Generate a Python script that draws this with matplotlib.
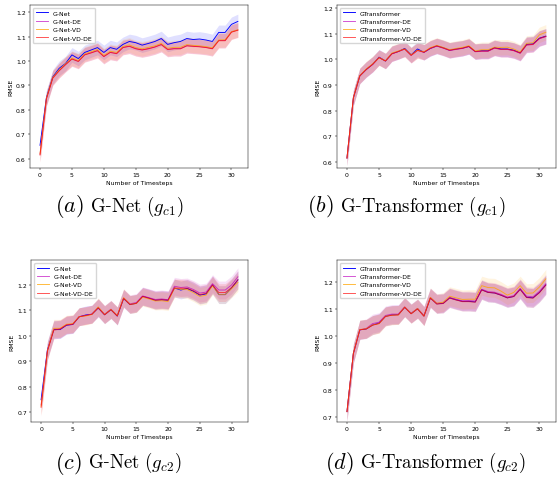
import matplotlib
matplotlib.use("Agg")
import matplotlib.pyplot as plt
import numpy as np

s = 0.44  # everything scaled down like a shrunk figure
plt.rcParams['font.size'] = 10 * s
plt.rcParams['axes.linewidth'] = 0.8 * s
plt.rcParams['xtick.major.size'] = 3.5 * s
plt.rcParams['ytick.major.size'] = 3.5 * s
plt.rcParams['xtick.major.width'] = 0.8 * s
plt.rcParams['ytick.major.width'] = 0.8 * s
plt.rcParams['xtick.major.pad'] = 3.5 * s
plt.rcParams['ytick.major.pad'] = 3.5 * s
plt.rcParams['legend.fontsize'] = 10 * s
plt.rcParams['mathtext.fontset'] = 'cm'

steps = np.arange(32)

# (a) G-Net, g_c1
a_gnet = [0.655, 0.850, 0.935, 0.970, 0.990, 1.025, 1.010, 1.035, 1.045, 1.055, 1.035, 1.055,
          1.048, 1.068, 1.080, 1.075, 1.065, 1.072, 1.080, 1.092, 1.068, 1.075, 1.080, 1.092,
          1.088, 1.090, 1.086, 1.080, 1.117, 1.117, 1.150, 1.162]
a_de = [0.618, 0.846, 0.931, 0.961, 0.986, 1.009, 0.999, 1.026, 1.034, 1.043, 1.019, 1.036,
        1.031, 1.056, 1.061, 1.051, 1.046, 1.051, 1.058, 1.068, 1.048, 1.051, 1.051, 1.063,
        1.061, 1.059, 1.056, 1.051, 1.084, 1.084, 1.119, 1.127]
a_vd = [0.620, 0.848, 0.933, 0.964, 0.989, 1.012, 1.002, 1.029, 1.038, 1.047, 1.023, 1.040,
        1.035, 1.060, 1.066, 1.055, 1.050, 1.056, 1.062, 1.072, 1.052, 1.056, 1.056, 1.067,
        1.064, 1.062, 1.059, 1.054, 1.086, 1.087, 1.120, 1.128]
a_vdde = [0.615, 0.845, 0.930, 0.960, 0.985, 1.008, 0.998, 1.025, 1.033, 1.042, 1.018, 1.035,
          1.030, 1.055, 1.060, 1.050, 1.045, 1.050, 1.057, 1.067, 1.047, 1.050, 1.050, 1.062,
          1.060, 1.058, 1.055, 1.050, 1.083, 1.083, 1.118, 1.126]

# (b) G-Transformer, g_c1
b_gt = [0.615, 0.850, 0.935, 0.960, 0.980, 1.008, 0.993, 1.022, 1.030, 1.042, 1.017, 1.040,
        1.027, 1.042, 1.052, 1.045, 1.035, 1.040, 1.043, 1.050, 1.030, 1.033, 1.033, 1.045,
        1.040, 1.040, 1.035, 1.025, 1.058, 1.060, 1.082, 1.090]
b_de = [0.615, 0.850, 0.935, 0.960, 0.980, 1.007, 0.993, 1.021, 1.030, 1.039, 1.015, 1.034,
        1.027, 1.042, 1.051, 1.043, 1.034, 1.038, 1.042, 1.049, 1.029, 1.031, 1.031, 1.043,
        1.038, 1.038, 1.033, 1.023, 1.055, 1.057, 1.080, 1.088]
b_vd = [0.615, 0.851, 0.936, 0.962, 0.982, 1.006, 0.994, 1.024, 1.032, 1.040, 1.017, 1.035,
        1.029, 1.045, 1.054, 1.046, 1.037, 1.042, 1.046, 1.053, 1.032, 1.037, 1.037, 1.047,
        1.046, 1.047, 1.040, 1.028, 1.062, 1.064, 1.095, 1.105]
b_vdde = [0.615, 0.850, 0.935, 0.960, 0.980, 1.006, 0.993, 1.021, 1.030, 1.040, 1.015, 1.035,
          1.027, 1.043, 1.052, 1.044, 1.035, 1.039, 1.043, 1.050, 1.030, 1.032, 1.032, 1.044,
          1.039, 1.039, 1.034, 1.024, 1.056, 1.058, 1.081, 1.089]

# (c) G-Net, g_c2
c_gnet = [0.750, 0.945, 1.025, 1.025, 1.042, 1.045, 1.075, 1.082, 1.085, 1.110, 1.083, 1.103,
          1.078, 1.147, 1.123, 1.128, 1.155, 1.148, 1.140, 1.142, 1.140, 1.188, 1.180, 1.186,
          1.175, 1.160, 1.165, 1.200, 1.162, 1.162, 1.188, 1.220]
c_de = [0.730, 0.945, 1.027, 1.028, 1.044, 1.047, 1.076, 1.080, 1.086, 1.112, 1.085, 1.105,
        1.080, 1.149, 1.126, 1.131, 1.157, 1.150, 1.143, 1.145, 1.142, 1.195, 1.190, 1.192,
        1.182, 1.168, 1.172, 1.205, 1.180, 1.180, 1.200, 1.232]
c_vd = [0.725, 0.942, 1.030, 1.030, 1.046, 1.048, 1.076, 1.078, 1.084, 1.114, 1.084, 1.104,
        1.080, 1.150, 1.124, 1.127, 1.152, 1.145, 1.137, 1.138, 1.135, 1.187, 1.183, 1.182,
        1.170, 1.155, 1.160, 1.196, 1.162, 1.162, 1.185, 1.210]
c_vdde = [0.720, 0.940, 1.023, 1.027, 1.043, 1.046, 1.075, 1.080, 1.085, 1.110, 1.083, 1.103,
          1.078, 1.147, 1.123, 1.128, 1.155, 1.148, 1.140, 1.142, 1.140, 1.188, 1.187, 1.187,
          1.177, 1.162, 1.167, 1.200, 1.170, 1.170, 1.190, 1.220]

# (d) G-Transformer, g_c2
d_gt = [0.720, 0.935, 1.022, 1.025, 1.040, 1.047, 1.072, 1.077, 1.078, 1.105, 1.082, 1.100,
        1.073, 1.140, 1.118, 1.120, 1.140, 1.133, 1.127, 1.127, 1.125, 1.170, 1.160, 1.158,
        1.150, 1.140, 1.145, 1.172, 1.142, 1.140, 1.160, 1.188]
d_de = [0.720, 0.935, 1.022, 1.027, 1.045, 1.050, 1.075, 1.080, 1.080, 1.107, 1.083, 1.101,
        1.075, 1.141, 1.120, 1.122, 1.142, 1.135, 1.129, 1.130, 1.128, 1.172, 1.163, 1.161,
        1.153, 1.143, 1.148, 1.175, 1.146, 1.144, 1.164, 1.192]
d_vd = [0.720, 0.936, 1.023, 1.026, 1.040, 1.045, 1.072, 1.076, 1.077, 1.106, 1.082, 1.101,
        1.073, 1.142, 1.120, 1.124, 1.146, 1.140, 1.134, 1.135, 1.135, 1.185, 1.178, 1.177,
        1.165, 1.150, 1.160, 1.185, 1.157, 1.158, 1.180, 1.210]
d_vdde = [0.720, 0.935, 1.022, 1.025, 1.039, 1.045, 1.071, 1.076, 1.077, 1.105, 1.081, 1.099,
          1.072, 1.139, 1.117, 1.119, 1.139, 1.132, 1.126, 1.126, 1.124, 1.169, 1.160, 1.158,
          1.150, 1.140, 1.145, 1.171, 1.141, 1.139, 1.159, 1.187]

net_names = ["G-Net", "G-Net-DE", "G-Net-VD", "G-Net-VD-DE"]
gt_names = ["GTransformer", "GTransformer-DE", "GTransformer-VD", "GTransformer-VD-DE"]
labels = ["(a)", "(b)", "(c)", "(d)"]
captions = [r"$\mathrm{G}$-$\mathrm{Net}$ $(g_{c1})$",
            r"$\mathrm{G}$-$\mathrm{Transformer}$ $(g_{c1})$",
            r"$\mathrm{G}$-$\mathrm{Net}$ $(g_{c2})$",
            r"$\mathrm{G}$-$\mathrm{Transformer}$ $(g_{c2})$"]

colors = ['blue', 'm', 'orange', 'red']
alphas = [1.0, 0.7, 0.8, 0.7]

panels = [
    ([a_gnet, a_de, a_vd, a_vdde], net_names, 0.030, (0.563, 1.230), [0.054, 0.652, 0.390, 0.336]),
    ([b_gt, b_de, b_vd, b_vdde], gt_names, 0.030, (0.577, 1.212), [0.604, 0.652, 0.392, 0.336]),
    ([c_gnet, c_de, c_vd, c_vdde], net_names, 0.035, (0.663, 1.298), [0.056, 0.128, 0.388, 0.334]),
    ([d_gt, d_de, d_vd, d_vdde], gt_names, 0.035, (0.682, 1.280), [0.604, 0.128, 0.392, 0.334]),
]
# left edge of each caption, in figure pixels, and caption centre height
cap_x = [55, 307, 55, 325]
cap_y = [0.574, 0.574, 0.045, 0.045]

fig = plt.figure(figsize=(5.58, 4.85), dpi=100)

for i, (series, names, err, ylim, rect) in enumerate(panels):
    ax = fig.add_axes(rect)
    for y, name, c, al in zip(series, names, colors, alphas):
        y = np.array(y)
        ax.plot(steps, y, color=c, alpha=al, lw=1.5 * s, label=name)
        ax.fill_between(steps, y - err, y + err, color=c, alpha=0.12, lw=0)
    ax.set_ylim(*ylim)
    ax.set_xlabel("Number of Timesteps", labelpad=4 * s)
    ax.set_ylabel("RMSE", labelpad=4 * s)
    ax.legend(loc='upper left', frameon=True, handlelength=2.0, borderpad=0.4)
    t1 = fig.text(cap_x[i] / 558, cap_y[i], "$" + labels[i] + "$", ha='left', va='center',
                  fontsize=16)
    fig.canvas.draw()
    bb = t1.get_window_extent()
    fig.text((bb.x1 + 6) / 558, cap_y[i], captions[i], ha='left', va='center',
             fontsize=13.5, family='DejaVu Serif')

plt.savefig("out.png", dpi=100)
